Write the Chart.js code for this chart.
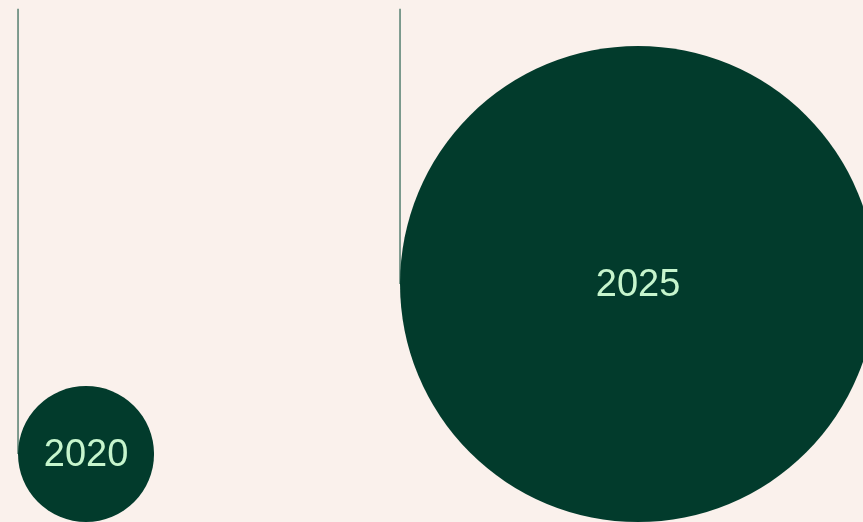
<!DOCTYPE html>
<html>
<head>
<meta charset="utf-8">
<script src="https://cdn.jsdelivr.net/npm/chart.js@4.4.1/dist/chart.umd.min.js"></script>
<style>
  html, body { margin: 0; padding: 0; background: #faf1ec; }
  #wrap { width: 863px; height: 522px; position: relative; }
</style>
</head>
<body>
<div id="wrap"><canvas id="bubbles"></canvas></div>
<script>
// years and relative size (area) of each bubble
let years = [2020, 2025];
let labels = ['2020', '2025'];
let values = [4, 49];

let fillColor = '#023b2c';
let textColor = '#c6f5cd';
let stemColor = '#557f70';
let lineTop = 0.983;   // where the hanging lines start, in y units
let radiusUnit = 34 / 522; // bubble radius per sqrt(value), share of plot height

// bubbles hang to the right of their year line and rest on the baseline
const hangPlugin = {
  id: 'hang',
  afterDatasetsUpdate(chart) {
    let meta = chart.getDatasetMeta(0);
    let ys = chart.scales.y;
    meta.data.forEach(function(el) {
      let r = el.options.radius;
      el.x = chart.scales.x.getPixelForValue(el.$context.raw.x) + r;
      el.y = ys.getPixelForValue(0) - r;
    });
  },
  beforeDatasetsDraw(chart) {
    let ctx = chart.ctx;
    let xs = chart.scales.x, ys = chart.scales.y;
    let meta = chart.getDatasetMeta(0);
    ctx.save();
    ctx.strokeStyle = stemColor;
    ctx.lineWidth = 1.5;
    for (let i = 0; i < years.length; i++) {
      let x = xs.getPixelForValue(years[i]);
      ctx.beginPath();
      ctx.moveTo(x, ys.getPixelForValue(lineTop));
      ctx.lineTo(x, meta.data[i].y);
      ctx.stroke();
    }
    ctx.restore();
  },
  afterDatasetsDraw(chart) {
    let ctx = chart.ctx;
    let meta = chart.getDatasetMeta(0);
    ctx.save();
    ctx.fillStyle = textColor;
    ctx.font = '38px "Liberation Sans", Arial, sans-serif';
    ctx.textAlign = 'center';
    ctx.textBaseline = 'middle';
    meta.data.forEach(function(el, i) {
      ctx.fillText(labels[i], el.x, el.y + 2);
    });
    ctx.restore();
  }
};

new Chart(document.getElementById('bubbles'), {
  type: 'bubble',
  data: {
    datasets: [{
      data: years.map((y, i) => ({ x: y, y: 0, v: values[i] })),
      backgroundColor: fillColor,
      borderColor: fillColor,
      borderWidth: 0,
      hoverRadius: 0,
      clip: false,
      radius: function(c) {
        let h = c.chart.chartArea ? c.chart.chartArea.height : 522;
        return Math.sqrt(c.raw.v) * radiusUnit * h;
      }
    }]
  },
  options: {
    responsive: true,
    maintainAspectRatio: false,
    animation: false,
    layout: { padding: 0, autoPadding: false },
    plugins: { legend: { display: false }, tooltip: { enabled: false } },
    scales: {
      x: { type: 'linear', display: false, min: 2019.764, max: 2031.06 },
      y: { type: 'linear', display: false, min: 0, max: 1 }
    }
  },
  plugins: [hangPlugin]
});
</script>
</body>
</html>
